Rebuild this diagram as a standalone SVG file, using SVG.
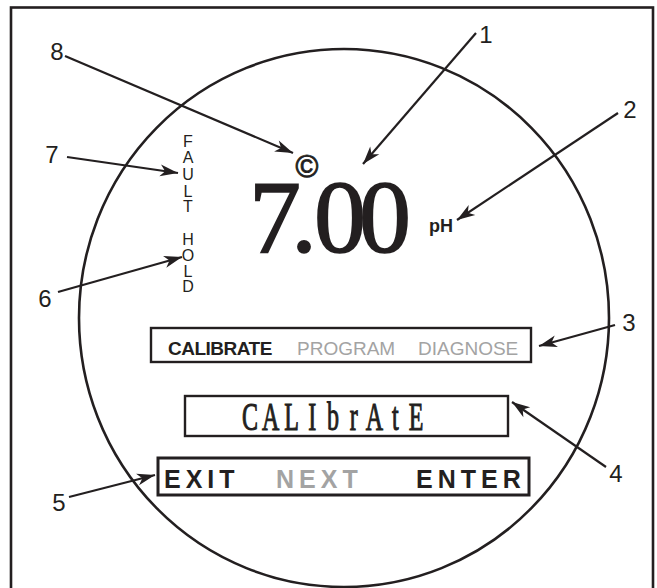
<svg xmlns="http://www.w3.org/2000/svg" width="657" height="588" viewBox="0 0 657 588">
<defs>
<style>
.ln{stroke:#231f20;stroke-width:2.2;fill:none}
.num{font-family:"Liberation Sans",Arial,sans-serif;font-size:24px;fill:#231f20;text-anchor:middle}
.vt{font-family:"Liberation Sans",Arial,sans-serif;font-size:16px;fill:#231f20;text-anchor:middle}
.box{fill:none;stroke:#231f20;stroke-width:2.4}
.dk{fill:#231f20}
.gy{fill:#a3a3a3}
</style>
<marker id="ah" viewBox="-20 -7 21 14" refX="0" refY="0" markerWidth="21" markerHeight="14" markerUnits="userSpaceOnUse" orient="auto">
<path d="M0,0 L-18,-6 L-13,0 L-18,6 Z" fill="#231f20"/>
</marker>
</defs>
<rect width="657" height="588" fill="#ffffff"/>
<rect x="11" y="7.5" width="642" height="600" fill="none" stroke="#231f20" stroke-width="2.6"/>
<ellipse cx="344" cy="318" rx="265" ry="269" fill="none" stroke="#231f20" stroke-width="2.6"/>

<g id="display">
<text x="249 291 314 359" y="252" font-family="'Liberation Serif','Times New Roman',serif" font-size="104" fill="#231f20" stroke="#231f20" stroke-width="1.6">7.00</text>
<text x="307" y="177" font-family="'Liberation Sans',Arial,sans-serif" font-size="31" fill="#231f20" stroke="#231f20" stroke-width="0.9" text-anchor="middle">©</text>
<text x="429" y="232" font-family="'Liberation Sans',Arial,sans-serif" font-size="18" font-weight="bold" fill="#231f20">pH</text>
</g>

<g id="fault">
<text class="vt" x="188" y="147">F</text>
<text class="vt" x="188" y="163">A</text>
<text class="vt" x="188" y="180">U</text>
<text class="vt" x="188" y="197">L</text>
<text class="vt" x="188" y="212">T</text>
</g>
<g id="hold">
<text class="vt" x="188" y="245">H</text>
<text class="vt" x="188" y="261">O</text>
<text class="vt" x="188" y="277">L</text>
<text class="vt" x="188" y="292">D</text>
</g>

<g id="menu">
<rect class="box" x="151" y="328" width="380" height="34"/>
<text x="168" y="355" font-family="'Liberation Sans',Arial,sans-serif" font-size="19" font-weight="bold" class="dk" letter-spacing="-0.5">CALIBRATE</text>
<text x="297" y="355" font-family="'Liberation Sans',Arial,sans-serif" font-size="19" class="gy">PROGRAM</text>
<text x="418" y="355" font-family="'Liberation Sans',Arial,sans-serif" font-size="19" class="gy">DIAGNOSE</text>
</g>

<g id="message">
<rect class="box" x="185" y="396" width="323" height="40"/>
<g transform="scale(0.6,1)">
<text x="416.7 451.3 485.8 520.4 555 589.6 624.2 658.8 693.3" y="430" font-family="'Liberation Serif','Times New Roman',serif" font-size="40" fill="#231f20" stroke="#231f20" stroke-width="1.1" text-anchor="middle">CALIbrAtE</text>
</g>
</g>

<g id="keys">
<rect x="158" y="458" width="371" height="37" fill="none" stroke="#231f20" stroke-width="3"/>
<text x="164" y="488" font-family="'Liberation Sans',Arial,sans-serif" font-size="25" font-weight="bold" letter-spacing="5" class="dk">EXIT</text>
<text x="276" y="488" font-family="'Liberation Sans',Arial,sans-serif" font-size="25" font-weight="bold" letter-spacing="5" class="gy">NEXT</text>
<text x="416" y="488" font-family="'Liberation Sans',Arial,sans-serif" font-size="25" font-weight="bold" letter-spacing="5" class="dk">ENTER</text>
</g>

<g id="labels">
<text class="num" x="486" y="43">1</text>
<text class="num" x="630" y="118">2</text>
<text class="num" x="629" y="331">3</text>
<text class="num" x="616" y="482">4</text>
<text class="num" x="59" y="511">5</text>
<text class="num" x="45" y="307">6</text>
<text class="num" x="52" y="163">7</text>
<text class="num" x="57" y="60">8</text>
</g>

<g id="connectors">
<line class="ln" x1="476" y1="33" x2="363" y2="164" marker-end="url(#ah)"/>
<line class="ln" x1="618" y1="113" x2="457" y2="220" marker-end="url(#ah)"/>
<line class="ln" x1="615" y1="325" x2="539" y2="346" marker-end="url(#ah)"/>
<line class="ln" x1="606" y1="467" x2="512" y2="402" marker-end="url(#ah)"/>
<line class="ln" x1="69" y1="497" x2="155" y2="475" marker-end="url(#ah)"/>
<line class="ln" x1="58" y1="292" x2="182" y2="257" marker-end="url(#ah)"/>
<line class="ln" x1="67" y1="157" x2="178" y2="173" marker-end="url(#ah)"/>
<line class="ln" x1="65" y1="56" x2="293" y2="153" marker-end="url(#ah)"/>
</g>
</svg>
